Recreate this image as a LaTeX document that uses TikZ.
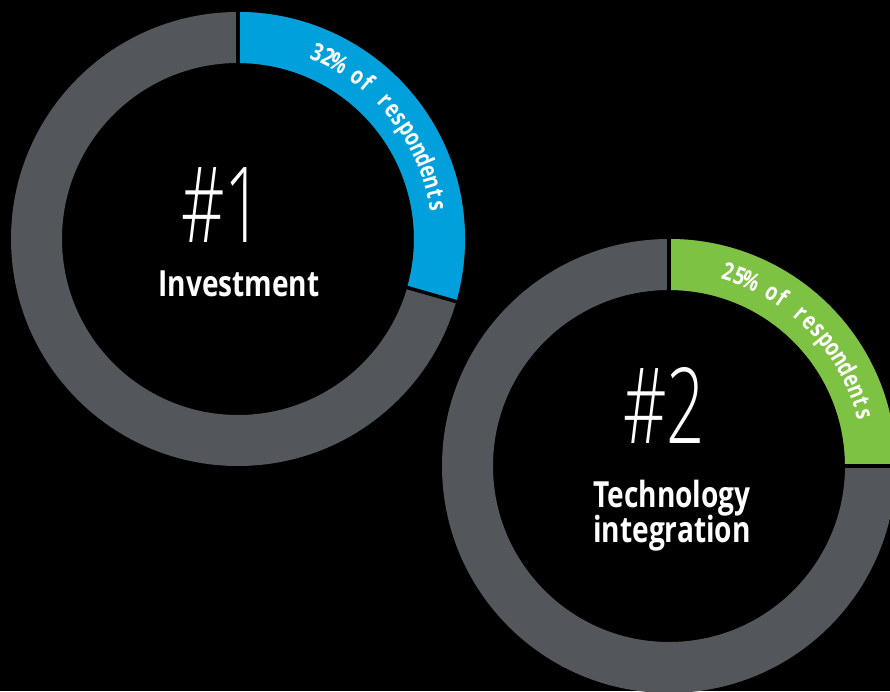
\documentclass[tikz,border=0pt]{standalone}
\usepackage{fontspec}
\setmainfont{Open Sans}
\newfontfamily\labfont[FakeStretch=0.78]{Open Sans}
\IfFontExistsTF{Open Sans Light}
  {\newfontfamily\numfont[FakeStretch=0.64]{Open Sans Light}}
  {\newfontfamily\numfont[FakeStretch=0.64]{Open Sans}}
\definecolor{ringgray}{HTML}{53565A}
\definecolor{segblue}{HTML}{00A0DC}
\definecolor{seggreen}{HTML}{7DC242}
\newcommand\arcfont{\labfont\bfseries\fontsize{24.6}{24.6}\selectfont}
\tikzset{
  numtxt/.style={text=white, inner sep=0pt, font=\numfont\fontsize{105}{105}\selectfont},
  labtxt/.style={text=white, inner sep=0pt, font=\labfont\bfseries\fontsize{36}{36}\selectfont},
  arcchar/.style={text=white, inner sep=0pt, anchor=base, font=\arcfont},
  sepline/.style={draw=black, line width=3.5pt},
}
\newlength\chw
\newlength\totw
% #1 centre, #2 radius, #3 start angle, #4 end angle, #5 number of chars, #6 whole text, #7 char list
\newcommand\arctext[7]{%
  \settowidth{\totw}{\arcfont #6}%
  \pgfmathsetmacro\trk{((#3-#4)*pi/180*#2-\totw)/(#5-1)}%
  \xdef\curang{#3}%
  \foreach \ch in {#7}{%
    \settowidth{\chw}{\arcfont\ch}%
    \pgfmathsetmacro\midang{\curang-(\chw/(2*#2))*180/pi}%
    \node[arcchar, rotate=\midang-90] at ([shift={(\midang:#2)}]#1) {\ch};
    \pgfmathsetmacro\newang{\curang-((\chw+\trk)/#2)*180/pi}%
    \xdef\curang{\newang}%
  }%
}
\begin{document}
\begin{tikzpicture}[x=1pt,y=1pt]
\fill[black] (0,0) rectangle (890,691);
\useasboundingbox (0,0) rectangle (890,691);
\coordinate (c1) at (238,452);
\coordinate (c2) at (669,225);
% ring 1
\fill[ringgray,even odd rule] (c1) circle[radius=227] (c1) circle[radius=176];
\fill[segblue] ([shift={(90:227)}]c1) arc[start angle=90,end angle=-16,radius=227]
  -- ([shift={(-16:176)}]c1) arc[start angle=-16,end angle=90,radius=176] -- cycle;
\draw[sepline] ([shift={(90:170)}]c1) -- ([shift={(90:233)}]c1);
\draw[sepline] ([shift={(-16:170)}]c1) -- ([shift={(-16:233)}]c1);
\arctext{c1}{194}{67}{9.5}{18}{32\% of respondents}{3,2,\%,~,o,f,~,r,e,s,p,o,n,d,e,n,t,s}
% ring 2
\fill[ringgray,even odd rule] (c2) circle[radius=227] (c2) circle[radius=176];
\fill[seggreen] ([shift={(90:227)}]c2) arc[start angle=90,end angle=0,radius=227]
  -- ([shift={(0:176)}]c2) arc[start angle=0,end angle=90,radius=176] -- cycle;
\draw[sepline] ([shift={(90:170)}]c2) -- ([shift={(90:233)}]c2);
\draw[sepline] ([shift={(0:170)}]c2) -- ([shift={(0:233)}]c2);
\arctext{c2}{194}{73}{15}{18}{25\% of respondents}{2,5,\%,~,o,f,~,r,e,s,p,o,n,d,e,n,t,s}
% labels
\node[numtxt, anchor=base] (n1) at (222,448) {\#1};
\node[labtxt, anchor=base] (l1) at (239,394) {Investment};
\node[numtxt, anchor=base] (n2) at (664,248) {\#2};
\node[labtxt, anchor=base] (l2a) at (672,184) {Technology};
\node[labtxt, anchor=base] (l2b) at (672,149) {integration};
\end{tikzpicture}
\end{document}
